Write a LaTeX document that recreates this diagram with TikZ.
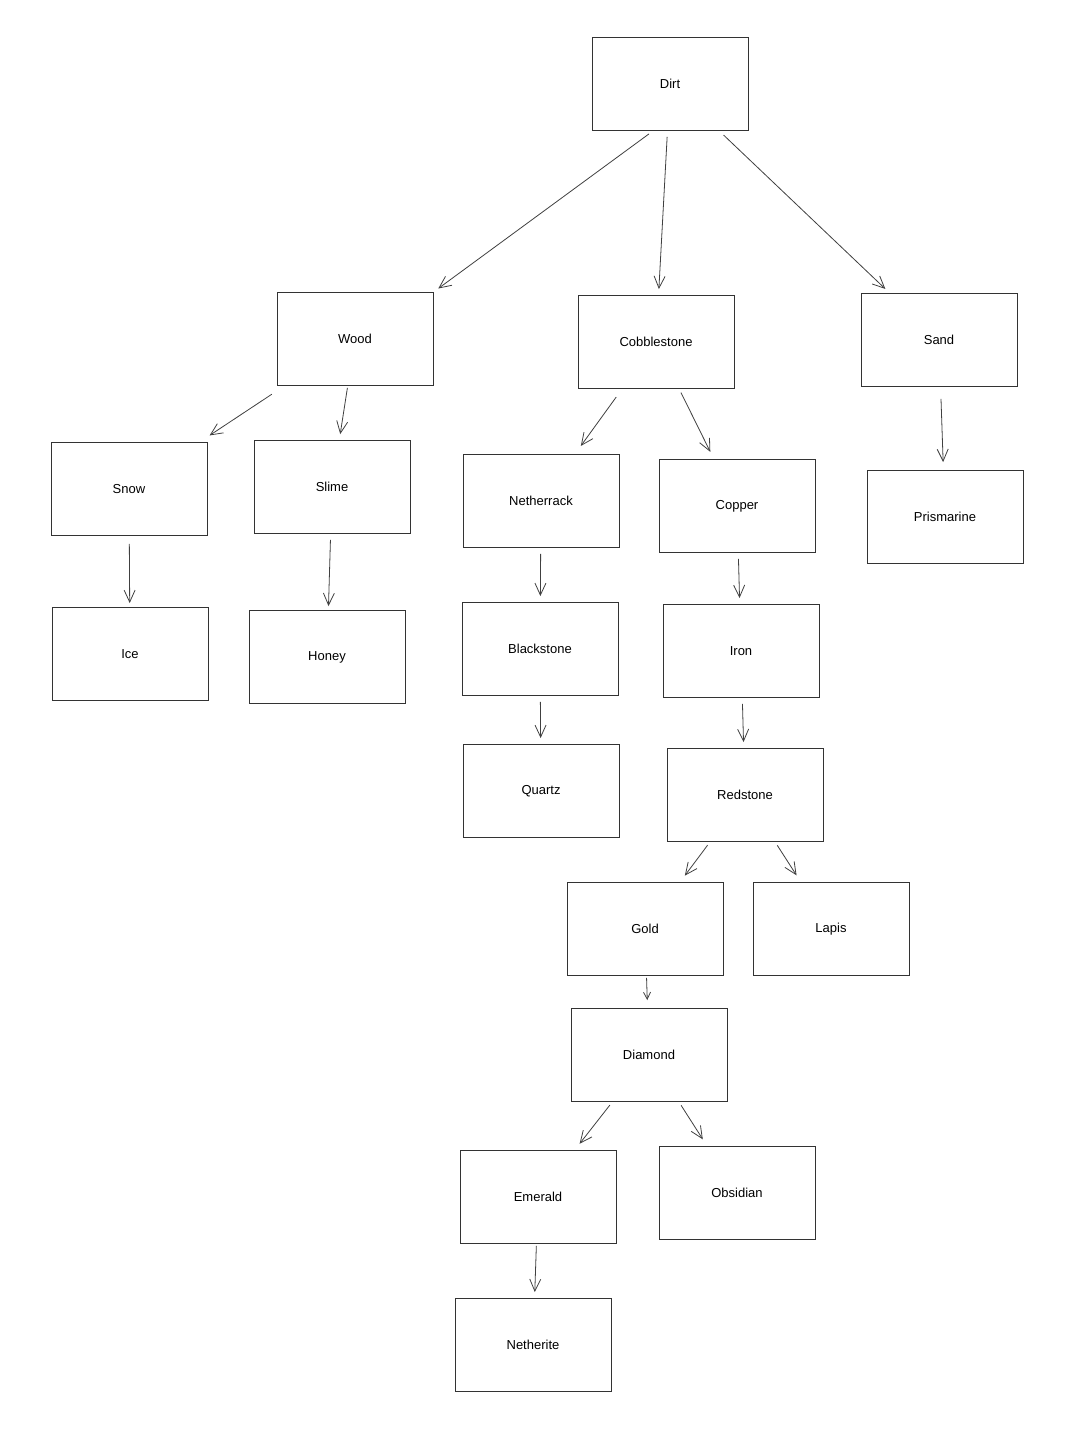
\documentclass[tikz,border=0pt]{standalone}
\usepackage{fontspec}
\setmainfont{Liberation Sans}
\usetikzlibrary{arrows.meta}
\begin{document}
\begin{tikzpicture}[x=1pt,y=-1pt,
  box/.style={draw=black!80,line width=0.9pt,minimum width=156pt,minimum height=93pt,font=\fontsize{13}{15}\selectfont},
  arr/.style={draw=black!75,line width=0.8pt,-{Straight Barb[length=12pt,width=11pt]},shorten <=6pt,shorten >=6pt}]
\useasboundingbox[fill=white] (0,0) rectangle (1078,1440);
\def\B#1#2#3#4{\node[box] (#1) at (#2,#3) {#4};}
\B{dirt}{670}{84}{Dirt}
\B{wood}{355}{339}{Wood}
\B{cobble}{656}{342}{Cobblestone}
\B{sand}{939}{340}{Sand}
\B{snow}{129}{489}{Snow}
\B{slime}{332}{487}{Slime}
\B{nether}{541}{501}{Netherrack}
\B{copper}{737}{506}{Copper}
\B{prism}{945}{517}{Prismarine}
\B{ice}{130}{654}{Ice}
\B{honey}{327}{657}{Honey}
\B{black}{540}{649}{Blackstone}
\B{iron}{741}{651}{Iron}
\B{quartz}{541}{791}{Quartz}
\B{red}{745}{795}{Redstone}
\B{gold}{645}{929}{Gold}
\B{lapis}{831}{929}{Lapis}
\B{diamond}{649}{1055}{Diamond}
\B{emerald}{538}{1197}{Emerald}
\B{obsid}{737}{1193}{Obsidian}
\B{netherite}{533}{1345}{Netherite}
\draw[arr,shorten <=5pt] (dirt.south) ++(-17,0) coordinate (d1) (d1) -- (wood.north east);
\draw[arr] (dirt) -- (cobble);
\draw[arr] (dirt) -- (sand);
\draw[arr,shorten <=15pt,shorten >=12pt] (wood) -- (snow);
\draw[arr,shorten <=2pt,shorten >=6pt] (wood) -- (slime);
\draw[arr,shorten <=10pt,shorten >=10pt] (cobble) -- (nether);
\draw[arr,shorten <=4pt,shorten >=8pt] (cobble) -- (copper);
\draw[arr,shorten <=12pt,shorten >=8pt] (sand) -- (prism);
\draw[arr,shorten <=8pt,shorten >=4pt] (snow) -- (ice);
\draw[arr,shorten <=6pt,shorten >=4pt] (slime) -- (honey);
\draw[arr,shorten <=6pt,shorten >=6pt] (nether) -- (black);
\draw[arr,shorten <=6pt,shorten >=6pt] (copper) -- (iron);
\draw[arr,shorten <=6pt,shorten >=6pt] (black) -- (quartz);
\draw[arr,shorten <=6pt,shorten >=6pt] (iron) -- (red);
\draw[arr,shorten <=4pt,shorten >=8pt] (red) -- (gold);
\draw[arr,shorten <=4pt,shorten >=8pt] (red) -- (lapis);
\draw[arr,shorten <=2pt,shorten >=8pt,-{Straight Barb[length=7pt,width=7pt]}] (gold) -- (diamond);
\draw[arr,shorten <=4pt,shorten >=8pt] (diamond) -- (emerald);
\draw[arr,shorten <=4pt,shorten >=8pt] (diamond) -- (obsid);
\draw[arr,shorten <=2pt,shorten >=6pt] (emerald) -- (netherite);
\end{tikzpicture}
\end{document}
